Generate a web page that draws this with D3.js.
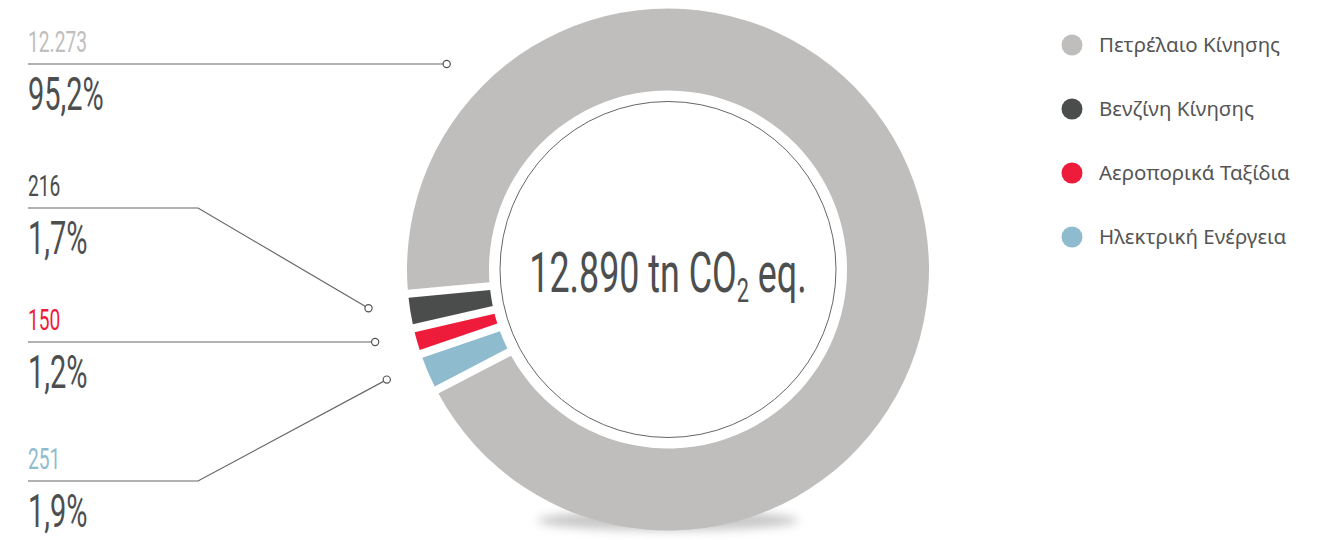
<!DOCTYPE html>
<html>
<head>
<meta charset="utf-8">
<script src="https://cdn.jsdelivr.net/npm/d3@7"></script>
<style>
  body { margin: 0; background: #fff; }
  svg { display: block; }
  .cond { font-family: Roboto, "Open Sans", sans-serif; }
  .legend text { font-family: "Noto Sans", Lato, sans-serif; font-size: 20.5px; fill: #555; }
</style>
</head>
<body>
<script>

var categories = ["Πετρέλαιο Κίνησης", "Βενζίνη Κίνησης", "Αεροπορικά Ταξίδια", "Ηλεκτρική Ενέργεια"];
var values = [12273, 216, 150, 251];
var colors = ["#bfbebd", "#4b4d4d", "#ee1b3b", "#8fbbce"];
var unitText = ["tn CO", "2", " eq."];

var width = 1320,
    height = 540,
    cx = 668,
    cy = 269.5,
    rOuter = 261,
    rInner = 179,
    rRing = 168,
    rAnchor = 302,
    squeeze = 0.64;   // fake a condensed face

// greek number style: 12.890 / 95,2%
var gr = d3.formatLocale({decimal: ",", thousands: ".", grouping: [3], currency: ["", "€"]});
var fmtInt = gr.format(",d"),
    fmtPct = gr.format(".1%");

var total = d3.sum(values);

var svg = d3.select("body").append("svg")
    .attr("width", width)
    .attr("height", height);

var defs = svg.append("defs");
defs.append("filter").attr("id", "soft")
    .attr("x", "-20%").attr("y", "-100%").attr("width", "140%").attr("height", "300%")
  .append("feGaussianBlur").attr("stdDeviation", 5);

// faint shadow under the ring
svg.append("ellipse")
    .attr("cx", cx)
    .attr("cy", cy + rOuter - 10)
    .attr("rx", rOuter * 0.5)
    .attr("ry", 10)
    .attr("fill", "#b0b0b0")
    .attr("opacity", 0.7)
    .attr("filter", "url(#soft)");

var startA = 242.5 * Math.PI / 180;

var pie = d3.pie()
    .sort(null)
    .value(function(d) { return d; })
    .startAngle(startA)
    .endAngle(startA - 2 * Math.PI)
    .padAngle(8 / rOuter);

var arc = d3.arc()
    .innerRadius(rInner)
    .outerRadius(rOuter)
    .padRadius(rOuter);

var arcs = pie(values);

var g = svg.append("g").attr("transform", "translate(" + cx + "," + cy + ")");

g.selectAll(".slice")
    .data(arcs)
    .enter().append("path")
    .attr("class", "slice")
    .attr("d", arc)
    .attr("fill", function(d, i) { return colors[i]; });

g.append("circle")
    .attr("r", rInner - 1)
    .attr("fill", "#fff");

g.append("circle")
    .attr("r", rRing)
    .attr("fill", "#fff")
    .attr("stroke", "#666")
    .attr("stroke-width", 1);

// centre total
var centre = svg.append("text")
    .attr("class", "cond")
    .attr("transform", "translate(" + cx + "," + 292 + ") scale(" + squeeze + ",1)")
    .attr("text-anchor", "middle")
    .attr("fill", "#4d4f4f")
    .style("font-size", "56px");
centre.append("tspan").text(fmtInt(total) + " " + unitText[0]);
centre.append("tspan").attr("dy", 10).style("font-size", "34px").text(unitText[1]);
centre.append("tspan").attr("dy", -10).text(unitText[2]);

// leader anchors: polar point on rAnchor
function polar(a, r) {
    return [cx + r * Math.sin(a), cy - r * Math.cos(a)];
}

var labelX = 28,
    kneeX = 198,
    rowY = [64, 208, 342, 481];

function leader(d, i) {
    var p;
    if (i === 0) {
        // big slice: meet its row on the anchor circle, upper left
        var dy = cy - rowY[0];
        p = [cx - Math.sqrt(rAnchor * rAnchor - dy * dy), rowY[0]];
    } else {
        var mid = (d.startAngle + d.endAngle) / 2;
        p = polar(mid + 1.8 * Math.PI / 180, rAnchor);
    }
    var pts = [[labelX, rowY[i]]];
    if (Math.abs(p[1] - rowY[i]) > 12) {
        pts.push([kneeX, rowY[i]]);
    } else {
        p[1] = rowY[i];   // near enough: keep the line flat
        pts.push([p[0], rowY[i]]);
    }
    pts.push(p);
    return pts;
}

var labels = svg.selectAll(".label")
    .data(arcs)
    .enter().append("g")
    .attr("class", "label");

labels.append("path")
    .attr("d", function(d, i) { return d3.line()(leader(d, i)); })
    .attr("fill", "none")
    .attr("stroke", "#666")
    .attr("stroke-width", 1.2);

labels.append("circle")
    .attr("cx", function(d, i) { var p = leader(d, i); return p[p.length - 1][0]; })
    .attr("cy", function(d, i) { var p = leader(d, i); return p[p.length - 1][1]; })
    .attr("r", 3.6)
    .attr("fill", "#fff")
    .attr("stroke", "#555")
    .attr("stroke-width", 1.2);

labels.append("text")
    .attr("class", "cond")
    .attr("transform", function(d, i) { return "translate(" + labelX + "," + (rowY[i] - 12) + ") scale(" + squeeze + ",1)"; })
    .attr("fill", function(d, i) { return colors[i]; })
    .style("font-size", "30px")
    .text(function(d) { return fmtInt(d.value); });

labels.append("text")
    .attr("class", "cond")
    .attr("transform", function(d, i) { return "translate(" + labelX + "," + (rowY[i] + 46) + ") scale(" + (squeeze - 0.01) + ",1)"; })
    .attr("fill", "#4d4f4f")
    .style("font-size", "46px")
    .text(function(d) { return fmtPct(d.value / total); });

// legend
var legend = svg.append("g").attr("class", "legend")
    .selectAll("g")
    .data(categories)
    .enter().append("g")
    .attr("transform", function(d, i) { return "translate(1072," + (45 + i * 64) + ")"; });

legend.append("circle")
    .attr("r", 10.5)
    .attr("fill", function(d, i) { return colors[i]; });

legend.append("text")
    .attr("x", 27)
    .attr("y", 7)
    .text(function(d) { return d; });

</script>
</body>
</html>
